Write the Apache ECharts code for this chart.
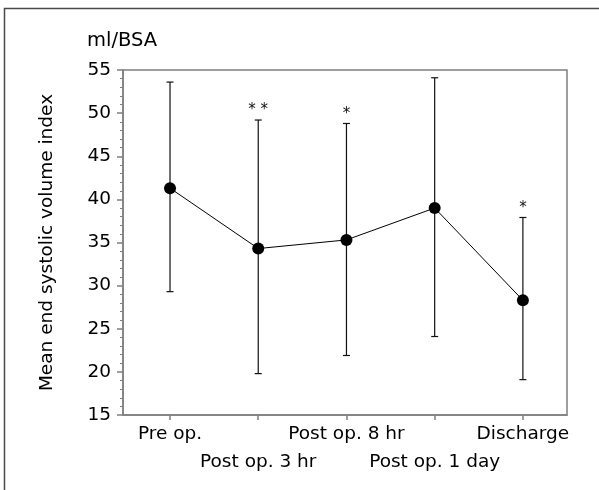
<!DOCTYPE html>
<html>
<head>
<meta charset="utf-8">
<script src="https://cdn.jsdelivr.net/npm/echarts@6/dist/echarts.min.js"></script>
<style>
  html, body { margin: 0; padding: 0; background: #fff; }
  #chart { width: 599px; height: 490px; }
</style>
</head>
<body>
<div id="chart"></div>
<script>
const categories = ["Pre op.", "Post op. 3 hr", "Post op. 8 hr", "Post op. 1 day", "Discharge"];
const means = [41.3, 34.3, 35.3, 39.0, 28.3];
const lower = [29.3, 19.8, 21.9, 24.1, 19.1];
const upper = [53.6, 49.2, 48.8, 54.1, 37.9];
const sigMarks = ["", "**", "*", "", "*"];
const yTicks = [15, 20, 25, 30, 35, 40, 45, 50, 55];

const FONT = "DejaVu Sans, Liberation Sans, Arial, sans-serif";
const AXIS_GRAY = "#7f7f7f";
const FS = 18.5;

const positions = categories.map((_, i) => i);
const upperRow = positions.filter((i) => i % 2 === 0);
const lowerRow = positions.filter((i) => i % 2 === 1);
const meanData = means.map((v, i) => [i, v]);
const barData = categories.map((_, i) => [i, lower[i], upper[i]]);

function renderErrorBar(params, api) {
  const x = api.value(0);
  const lo = api.coord([x, api.value(1)]);
  const hi = api.coord([x, api.value(2)]);
  const half = 3.5;
  const style = { stroke: "#111", lineWidth: 1.2 };
  const mark = sigMarks[params.dataIndex];
  const children = [
    { type: "line", shape: { x1: lo[0], y1: lo[1], x2: hi[0], y2: hi[1] }, style },
    { type: "line", shape: { x1: hi[0] - half, y1: hi[1], x2: hi[0] + half, y2: hi[1] }, style },
    { type: "line", shape: { x1: lo[0] - half, y1: lo[1], x2: lo[0] + half, y2: lo[1] }, style },
  ];
  if (mark) {
    children.push({
      type: "text",
      style: {
        text: mark.split("").join(" "),
        x: hi[0], y: hi[1] - 2,
        align: "center", verticalAlign: "bottom",
        font: "15px " + FONT, fill: "#111",
      },
    });
  }
  return { type: "group", children };
}

const xRange = { type: "value", min: -0.533, max: 4.5, splitLine: { show: false } };

const chart = echarts.init(document.getElementById("chart"), null, { renderer: "canvas" });
chart.setOption({
  animation: false,
  backgroundColor: "#fff",
  textStyle: { fontFamily: FONT },
  grid: {
    left: 123, right: 32, top: 70, bottom: 75,
    show: true, borderColor: AXIS_GRAY, borderWidth: 1.5,
  },
  graphic: [
    {
      type: "rect",
      shape: { x: 4.5, y: 8.5, width: 700, height: 700 },
      style: { fill: "none", stroke: "#4a4a4a", lineWidth: 1.5 },
      z: 100,
    },
    {
      type: "text",
      left: 87, top: 31,
      style: { text: "ml/BSA", font: "19.5px " + FONT, fill: "#000" },
    },
  ],
  xAxis: [
    {
      ...xRange,
      position: "bottom",
      axisLine: { onZero: false, lineStyle: { color: AXIS_GRAY, width: 1.5 } },
      axisTick: {
        show: true, inside: false, length: 5,
        customValues: positions,
        lineStyle: { color: AXIS_GRAY, width: 1.5 },
      },
      axisLabel: {
        customValues: upperRow,
        showMinLabel: true, showMaxLabel: true,
        color: "#000", fontSize: FS, fontFamily: FONT, margin: 10,
        formatter: (v) => categories[Math.round(v)],
      },
    },
    {
      ...xRange,
      position: "bottom",
      axisLine: { show: false, onZero: false },
      axisTick: { show: false },
      axisLabel: {
        customValues: lowerRow,
        showMinLabel: true, showMaxLabel: true,
        color: "#000", fontSize: FS, fontFamily: FONT, margin: 38,
        formatter: (v) => categories[Math.round(v)],
      },
    },
  ],
  yAxis: {
    type: "value",
    min: yTicks[0], max: yTicks[yTicks.length - 1], interval: 5,
    name: "Mean end systolic volume index",
    nameLocation: "middle",
    nameRotate: 90,
    nameGap: 66,
    nameTextStyle: { color: "#000", fontSize: FS, fontFamily: FONT },
    splitLine: { show: false },
    axisLine: { show: true, onZero: false, lineStyle: { color: AXIS_GRAY, width: 1.5 } },
    axisTick: { show: true, inside: false, length: 6, lineStyle: { color: AXIS_GRAY, width: 1.5 } },
    minorTick: { show: true, splitNumber: 5, length: 3, lineStyle: { color: AXIS_GRAY, width: 1 } },
    axisLabel: { color: "#000", fontSize: FS, fontFamily: FONT, margin: 12, showMinLabel: true, showMaxLabel: true },
  },
  series: [
    {
      type: "custom",
      data: barData,
      renderItem: renderErrorBar,
      encode: { x: 0, y: [1, 2] },
      xAxisIndex: 0,
      z: 2,
    },
    {
      type: "line",
      data: meanData,
      xAxisIndex: 0,
      symbol: "circle",
      symbolSize: 12,
      itemStyle: { color: "#000" },
      lineStyle: { color: "#000", width: 1 },
      z: 3,
    },
  ],
});
</script>
</body>
</html>
